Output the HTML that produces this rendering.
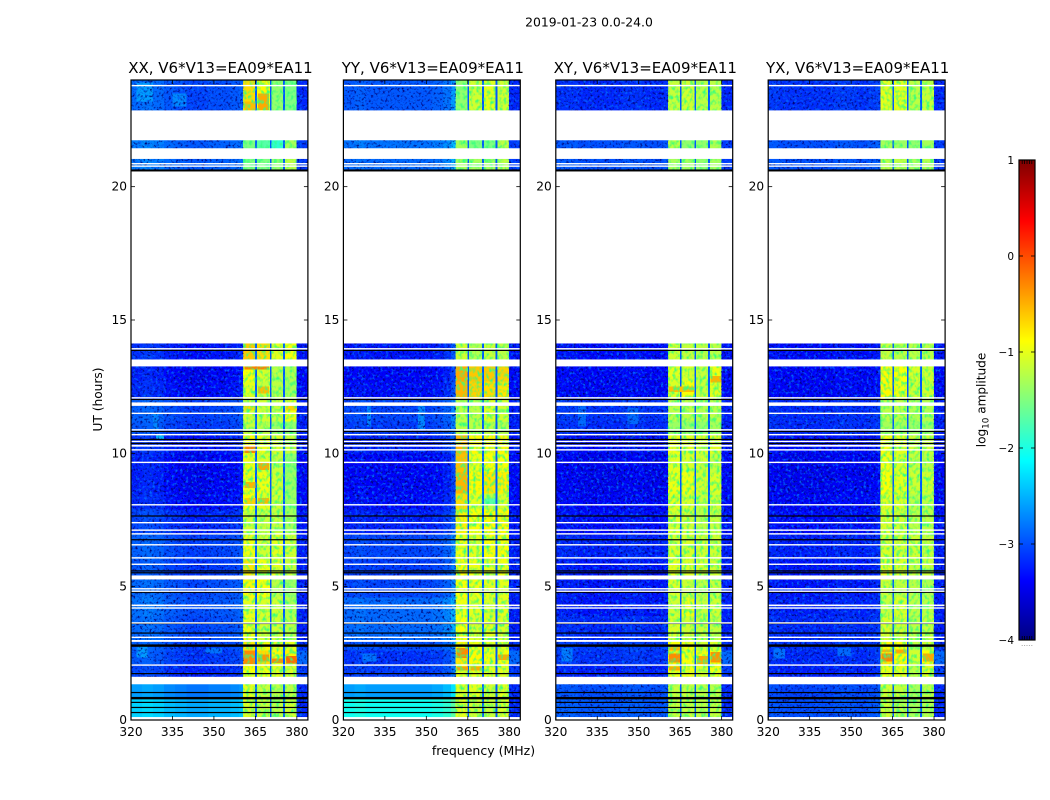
<!DOCTYPE html>
<html lang="en">
<head>
<meta charset="utf-8">
<title>2019-01-23 0.0-24.0</title>
<style>
html,body{margin:0;padding:0;background:#fff;}
svg{display:block;}
text{font-family:"DejaVu Sans","Liberation Sans",sans-serif;fill:#000;}
</style>
</head>
<body>
<svg id="chart" xmlns="http://www.w3.org/2000/svg" width="1050" height="800" viewBox="0 0 1050 800">
  <defs>
    <filter id="grain" x="0" y="0" width="100%" height="100%" color-interpolation-filters="sRGB">
      <feTurbulence type="fractalNoise" baseFrequency="0.42" numOctaves="2" seed="7"/>
      <feColorMatrix type="matrix" values="0 0 0 0 0  0 0 0 0 0  0 0 0 0 0.45  3.4 0 0 0 -1.75"/>
    </filter>
    <filter id="sparkle" x="0" y="0" width="100%" height="100%" color-interpolation-filters="sRGB">
      <feTurbulence type="fractalNoise" baseFrequency="0.36" numOctaves="2" seed="23"/>
      <feColorMatrix type="matrix" values="0 0 0 0 0  0 0 0 0 0.4  0 0 0 0 1  0 3.2 0 0 -1.65"/>
    </filter>
    <filter id="bandgrain" x="0" y="0" width="100%" height="100%" color-interpolation-filters="sRGB">
      <feTurbulence type="fractalNoise" baseFrequency="0.3 0.22" numOctaves="2" seed="11"/>
      <feColorMatrix type="matrix" values="0 0 0 0 0.2  0 0 0 0 1  0 0 0 0 0.5  2.6 0 0 0 -1.15"/>
    </filter>
  </defs>
  <text x="589" y="26.5" font-size="12.4" text-anchor="middle">2019-01-23 0.0-24.0</text>
  <text x="483.5" y="755" font-size="12.5" text-anchor="middle">frequency (MHz)</text>
  <text transform="translate(102,399.5) rotate(-90)" font-size="12.2" text-anchor="middle">UT (hours)</text>
  <text transform="translate(985.5,400) rotate(-90)" font-size="12.1" text-anchor="middle">log<tspan dy="3" font-size="8.8">10</tspan><tspan dy="-3"> amplitude</tspan></text>
  <g id="panels"></g>
  <g id="colorbar"></g>
</svg>
<script>
// Time rows (hours, top to bottom)
const rowEdges = [24, 22.8, 21.2, 20.5, 13.4, 12.7, 12.0, 11.2, 10.7, 10.0, 9.3, 8.5, 7.9, 7.0, 6.0, 5.3, 4.6, 3.9, 3.0, 2.6, 2.1, 1.5, 0.8, 0];

// Frequency layout (MHz)
const freqTicks = [320, 335, 350, 365, 380];
const hourTicks = [0, 5, 10, 15, 20];
const colorTicks = [1, 0, -1, -2, -3, -4];
const colorTickLabels = ['1', '0', '\u22121', '\u22122', '\u22123', '\u22124'];
const bgBlockEdges = [320, 324, 328, 332, 336, 340, 344, 348, 352, 356, 359, 360.6];
const bandEdges = [[360.6, 364.9], [365.5, 370.2], [370.8, 375], [375.7, 379.9]];
const gapEdges = [[364.9, 365.5], [370.2, 370.8], [375, 375.7]];
const rightBlock = [379.9, 384];

// Panel titles
const titleXX = 'XX, V6*V13=EA09*EA11';
const titleYY = 'YY, V6*V13=EA09*EA11';
const titleXY = 'XY, V6*V13=EA09*EA11';
const titleYX = 'YX, V6*V13=EA09*EA11';

// log10 amplitude by row: off-band background
const bgXX = [-3.0, -2.9, -2.9, -3.3, -3.4, -3.35, -3.05, -3.1, -3.3, -3.4, -3.4, -3.35, -3.2, -3.05, -3.1, -3.0, -2.95, -3.0, -3.05, -3.1, -3.2, -2.75, -2.5];
const bgYY = [-2.95, -2.8, -2.85, -3.3, -3.4, -3.35, -3.05, -3.1, -3.25, -3.4, -3.4, -3.35, -3.25, -3.05, -3.1, -3.05, -2.85, -2.85, -3.0, -3.15, -3.1, -2.6, -2.05];
const bgXY = [-3.2, -3.0, -3.0, -3.35, -3.4, -3.4, -3.15, -3.2, -3.35, -3.45, -3.45, -3.4, -3.35, -3.25, -3.3, -3.3, -3.3, -3.2, -3.1, -3.15, -3.25, -3.0, -2.95];
const bgYX = [-3.15, -3.0, -3.0, -3.35, -3.4, -3.4, -3.2, -3.2, -3.35, -3.45, -3.45, -3.4, -3.35, -3.25, -3.3, -3.3, -3.25, -3.2, -3.15, -3.2, -3.25, -3.05, -3.0];

// Background offset by 4 MHz block
const tiltXX = [0.15, 0.2, 0.15, 0.05, 0, -0.05, -0.05, 0, 0, 0.05, 0.1];
const tiltYY = [0, 0.05, 0, 0, 0, 0, 0, 0, 0.05, 0.15, 0.35];
const tiltXY = [0.05, 0.05, 0, 0, 0, 0, 0.05, 0.05, 0, 0, 0.05];
const tiltYX = [0.05, 0, 0, 0, 0, 0, 0.05, 0.05, 0, 0.05, 0.1];

// Four bright bands by row
const xxBand1 = [-0.7, -1.5, -1.5, -0.6, -0.9, -1.0, -1.1, -1.15, -0.85, -0.95, -0.95, -0.9, -1.1, -0.95, -0.75, -0.85, -1.0, -0.95, -0.75, -0.3, -0.9, -1.0, -1.05];
const xxBand2 = [-0.85, -1.7, -1.5, -0.7, -1.05, -1.15, -1.1, -1.2, -0.95, -1.05, -0.95, -1.0, -1.15, -1.1, -0.95, -0.9, -1.05, -1.1, -0.85, -0.7, -0.95, -1.15, -1.15];
const xxBand3 = [-1.4, -1.9, -1.4, -1.0, -1.2, -1.2, -1.15, -1.35, -1.05, -1.15, -1.1, -1.1, -1.15, -1.0, -1.0, -1.2, -1.1, -1.1, -1.0, -0.85, -1.0, -1.2, -1.2];
const xxBand4 = [-1.5, -1.3, -1.2, -0.9, -1.25, -1.3, -0.95, -1.4, -1.15, -1.4, -1.35, -1.35, -1.3, -1.1, -1.15, -1.35, -1.25, -1.2, -1.0, -0.8, -1.05, -1.2, -1.1];

const yyBand1 = [-1.4, -1.3, -1.3, -1.1, -0.45, -0.5, -1.2, -1.2, -0.5, -0.55, -0.5, -0.7, -0.8, -0.95, -0.85, -0.9, -0.95, -0.9, -0.8, -0.75, -0.95, -1.0, -1.0];
const yyBand2 = [-1.1, -1.5, -1.3, -1.25, -0.6, -0.65, -1.2, -1.2, -0.85, -0.95, -0.85, -1.0, -0.9, -1.0, -0.95, -0.95, -1.0, -1.05, -0.95, -0.85, -1.0, -1.0, -1.1];
const yyBand3 = [-1.0, -1.5, -1.3, -1.15, -0.6, -0.7, -1.05, -1.2, -0.85, -0.9, -0.75, -1.2, -0.85, -0.9, -1.0, -1.0, -1.05, -1.0, -1.0, -0.95, -1.0, -1.1, -1.15];
const yyBand4 = [-1.1, -1.2, -1.2, -1.2, -0.65, -0.75, -1.1, -1.25, -0.85, -0.9, -0.8, -1.05, -0.85, -0.9, -0.95, -1.0, -1.0, -1.05, -1.0, -0.9, -1.0, -1.0, -1.05];

const xyBand1 = [-1.15, -1.2, -1.3, -1.1, -1.0, -1.05, -1.2, -1.35, -0.95, -1.0, -0.95, -1.0, -1.05, -1.05, -1.0, -1.05, -1.1, -1.05, -0.9, -0.8, -0.95, -1.15, -1.15];
const xyBand2 = [-1.1, -1.4, -1.3, -1.15, -1.05, -0.9, -1.2, -1.35, -1.0, -1.05, -0.95, -1.05, -1.1, -1.05, -1.05, -1.1, -0.95, -1.1, -0.95, -0.9, -0.95, -1.15, -1.15];
const xyBand3 = [-1.2, -1.4, -1.4, -1.2, -1.15, -1.15, -1.25, -1.4, -1.05, -1.1, -1.1, -1.15, -1.2, -1.1, -1.1, -1.2, -1.15, -1.15, -1.1, -0.95, -1.05, -1.2, -1.2];
const xyBand4 = [-1.2, -1.25, -1.3, -1.2, -0.95, -1.0, -1.2, -1.3, -1.0, -1.15, -1.05, -1.1, -1.15, -1.1, -1.1, -1.15, -1.1, -1.15, -1.05, -0.9, -0.95, -1.2, -1.15];

const yxBand1 = [-1.0, -1.3, -1.2, -1.15, -0.85, -0.85, -1.2, -1.3, -0.9, -0.95, -0.9, -1.0, -1.05, -1.05, -1.0, -1.1, -1.15, -1.05, -0.85, -0.75, -0.95, -1.1, -1.1];
const yxBand2 = [-1.0, -1.35, -1.2, -1.2, -0.9, -0.95, -1.2, -1.3, -1.0, -1.05, -1.0, -1.05, -1.1, -1.1, -1.05, -1.15, -1.05, -1.1, -0.9, -0.85, -1.0, -1.15, -1.2];
const yxBand3 = [-1.2, -1.4, -1.3, -1.2, -1.05, -1.1, -1.25, -1.35, -1.1, -1.15, -1.1, -1.2, -1.2, -1.1, -1.15, -1.2, -1.2, -1.2, -1.2, -1.1, -1.2, -1.3, -1.3];
const yxBand4 = [-1.15, -1.3, -1.25, -1.2, -1.1, -1.1, -1.25, -1.35, -1.1, -1.2, -1.1, -1.2, -1.2, -1.15, -1.15, -1.25, -1.2, -1.15, -1.1, -0.9, -1.0, -1.2, -1.25];

// Localised features: [startMHz, endMHz, upperHour, lowerHour, log10 amplitude]
const featuresXX = [
  [366, 370, 23.5, 22.87, -0.45], [361, 365, 23.2, 22.87, -0.55], [361, 370, 13.26, 13.15, -0.25],
  [366, 370, 12.5, 12.25, -0.55], [376, 380, 11.78, 11.6, -0.65], [361, 365, 11.78, 11.6, -0.7],
  [361, 365, 10.25, 10.02, -0.25], [366, 370, 9.65, 9.38, -0.45], [361, 365, 8.92, 8.7, -0.5],
  [366, 370, 8.32, 8.12, -0.5], [361, 365, 8.32, 8.1, -0.65], [366, 370, 2.45, 2.2, -0.35],
  [371, 375, 2.3, 2.14, -0.3], [376, 380, 2.4, 2.12, -0.15], [322, 326, 2.75, 2.35, -2.6],
  [347, 353, 2.7, 2.5, -2.8], [322, 328, 23.9, 23.2, -2.6], [335, 340, 23.5, 23.0, -2.7],
  [328, 330, 11.5, 10.9, -2.7], [329, 332, 10.68, 10.52, -2.5]
];
const featuresYY = [
  [371, 375, 8.3, 8.1, -1.7], [361, 365, 2.7, 2.33, -0.3], [376, 380, 2.45, 2.25, -0.45],
  [361, 365, 2.0, 1.85, -0.4], [366, 370, 2.0, 1.85, -0.45], [328.5, 330, 11.8, 11.0, -2.7],
  [347, 349.5, 11.8, 10.9, -2.7], [327, 332, 2.5, 2.2, -2.8]
];
const featuresXY = [
  [361, 365, 2.75, 2.6, -0.5], [361, 365, 2.5, 2.15, -0.3], [371, 375, 2.4, 2.1, -0.45],
  [376, 380, 2.55, 2.15, -0.35], [361, 365, 2.0, 1.85, -0.45], [361, 370, 12.5, 12.3, -0.55],
  [376, 380, 12.9, 12.65, -0.5], [322, 326, 2.7, 2.2, -2.75], [328, 331, 11.8, 11.0, -2.85],
  [346, 350, 11.7, 11.1, -2.85]
];
const featuresYX = [
  [361, 365, 2.65, 2.55, -0.5], [361, 365, 2.5, 2.2, -0.25], [366, 370, 2.65, 2.5, -0.45],
  [376, 380, 2.5, 2.2, -0.45], [322, 326, 2.7, 2.3, -2.8], [345, 350, 2.7, 2.4, -2.85]
];

// Levels shared by all panels
const gapLevel = -2.95;
const rightLevel = [-3.2, -3.1, -3.1, -3.3, -3.35, -3.35, -3.25, -3.25, -3.3, -3.35, -3.35, -3.35, -3.3, -3.25, -3.25, -3.25, -3.25, -3.25, -3.15, -2.85, -3.1, -3.2, -3.2];

// Flagged time ranges (hours) and thin flag lines
const whiteGaps = [[22.86, 21.74], [21.44, 21.04], [20.57, 14.12], [13.52, 13.26], [11.91, 11.78], [10.47, 10.42], [10.32, 10.25], [5.42, 5.27], [4.33, 4.27], [3.0, 2.93], [1.62, 1.34], [0.11, 0]];
const whiteLines = [23.79, 20.86, 20.77, 13.92, 12.08, 11.5, 10.88, 10.7, 10.13, 9.66, 8.07, 7.4, 7.12, 6.98, 6.57, 6.08, 5.84, 4.92, 4.83, 4.2, 3.64, 3.1, 2.06];
const blackLines = [13.86, 12.02, 10.82, 10.52, 10.37, 7.65, 6.76, 5.59, 5.52, 4.79, 3.62, 3.26, 1.74, 1.03, 0.66, 0.47, 0.28];
const thickBlackLines = [20.6, 2.79, 0.82];

const SVG_NS = 'http://www.w3.org/2000/svg';
const panelLeft = [131, 343.4, 555.8, 768.2];
const panelWidth = 176.9;
const plotTop = 80;
const plotBottom = 720;
const freqMin = 320;
const freqMax = 384;
const hourMax = 24;

function clamp01(v) { return Math.max(0, Math.min(1, v)); }
function jet(v) {
  const t = clamp01((v + 4) / 5);
  const r = clamp01(1.5 - Math.abs(4 * t - 3));
  const g = clamp01(1.5 - Math.abs(4 * t - 2));
  const b = clamp01(1.5 - Math.abs(4 * t - 1));
  return 'rgb(' + Math.round(r * 255) + ',' + Math.round(g * 255) + ',' + Math.round(b * 255) + ')';
}
function yScale(h) { return plotBottom - (h / hourMax) * (plotBottom - plotTop); }
function xScaleFor(left) {
  return function (f) { return left + ((f - freqMin) / (freqMax - freqMin)) * panelWidth; };
}
function make(tag, attrs, parent) {
  const el = document.createElementNS(SVG_NS, tag);
  for (const k in attrs) el.setAttribute(k, attrs[k]);
  parent.appendChild(el);
  return el;
}

const panelsRoot = document.getElementById('panels');
const panelDefs = [
  { key: 'xx', title: titleXX, bg: bgXX, tilt: tiltXX, bands: [xxBand1, xxBand2, xxBand3, xxBand4], features: featuresXX, smoothBelow: 1.5 },
  { key: 'yy', title: titleYY, bg: bgYY, tilt: tiltYY, bands: [yyBand1, yyBand2, yyBand3, yyBand4], features: featuresYY, smoothBelow: 1.5 },
  { key: 'xy', title: titleXY, bg: bgXY, tilt: tiltXY, bands: [xyBand1, xyBand2, xyBand3, xyBand4], features: featuresXY, smoothBelow: 0 },
  { key: 'yx', title: titleYX, bg: bgYX, tilt: tiltYX, bands: [yxBand1, yxBand2, yxBand3, yxBand4], features: featuresYX, smoothBelow: 0 }
];

panelDefs.forEach(function (def, pi) {
  const left = panelLeft[pi];
  const x = xScaleFor(left);
  const g = make('g', {}, panelsRoot);
  
  

  const title = make('text', { x: left + panelWidth / 2 + 1, y: 73, 'font-size': 15, 'text-anchor': 'middle' }, g);
  title.textContent = def.title;
  
  

  const cells = make('g', { 'shape-rendering': 'crispEdges' }, g);
  
  

  function cell(f0, f1, h0, h1, value) {
    const r = make('rect', {
      x: x(f0), y: yScale(h0),
      width: x(f1) - x(f0), height: yScale(h1) - yScale(h0),
      fill: jet(value)
    }, cells);
    
    
  }

  for (let r = 0; r < rowEdges.length - 1; r++) {
    const h0 = rowEdges[r];
    const h1 = rowEdges[r + 1];
    for (let b = 0; b < bgBlockEdges.length - 1; b++) {
      cell(bgBlockEdges[b], bgBlockEdges[b + 1], h0, h1, def.bg[r] + def.tilt[b]);
    }
    bandEdges.forEach(function (edge, b) {
      cell(edge[0], edge[1], h0, h1, def.bands[b][r]);
    });
    gapEdges.forEach(function (edge) {
      cell(edge[0], edge[1], h0, h1, gapLevel);
    });
    cell(rightBlock[0], rightBlock[1], h0, h1, rightLevel[r]);
  }
  def.features.forEach(function (p) {
    cell(p[0], p[1], p[2], p[3], p[4]);
  });

  // speckle texture over the off-band background
  const grainSpans = [[freqMin, bandEdges[0][0], def.smoothBelow], [rightBlock[0], rightBlock[1], 0]];
  grainSpans.forEach(function (span) {
    const attrs = { x: x(span[0]), y: plotTop, width: x(span[1]) - x(span[0]), height: yScale(span[2]) - plotTop };
    const dark = make('rect', attrs, g);
    dark.setAttribute('filter', 'url(#grain)');
    
    
    const light = make('rect', attrs, g);
    light.setAttribute('filter', 'url(#sparkle)');
    
    
  });
  bandEdges.forEach(function (edge) {
    const bandTex = make('rect', { x: x(edge[0]), y: plotTop, width: x(edge[1]) - x(edge[0]), height: plotBottom - plotTop }, g);
    bandTex.setAttribute('filter', 'url(#bandgrain)');
    
    
  });

  const flags = make('g', {}, g);
  
  

  thickBlackLines.forEach(function (h) {
    const l = make('rect', { x: left, y: yScale(h) - 1.2, width: panelWidth, height: 2.4, fill: '#000' }, flags);
    
    
  });
  blackLines.forEach(function (h) {
    const l = make('rect', { x: left, y: yScale(h) - 0.6, width: panelWidth, height: 1.2, fill: '#000' }, flags);
    
    
  });
  whiteLines.forEach(function (h) {
    const l = make('rect', { x: left, y: yScale(h) - 0.7, width: panelWidth, height: 1.4, fill: '#fff' }, flags);
    
    
  });
  whiteGaps.forEach(function (gap) {
    const l = make('rect', { x: left, y: yScale(gap[0]), width: panelWidth, height: yScale(gap[1]) - yScale(gap[0]), fill: '#fff' }, flags);
    
    
  });

  const frame = make('rect', { x: left, y: plotTop, width: panelWidth, height: plotBottom - plotTop, fill: 'none', stroke: '#000', 'stroke-width': 1.2 }, g);
  
  

  freqTicks.forEach(function (f) {
    const px = x(f);
    const t1 = make('line', { x1: px, x2: px, y1: plotBottom, y2: plotBottom - 4, stroke: '#000', 'stroke-width': 0.8 }, g);
    
    
    const t2 = make('line', { x1: px, x2: px, y1: plotTop, y2: plotTop + 4, stroke: '#000', 'stroke-width': 0.8 }, g);
    
    
    const lab = make('text', { x: px, y: plotBottom + 16, 'font-size': 12.2, 'text-anchor': 'middle' }, g);
    lab.textContent = String(f);
    
    
  });
  hourTicks.forEach(function (h) {
    const py = yScale(h);
    const t1 = make('line', { x1: left, x2: left + 4, y1: py, y2: py, stroke: '#000', 'stroke-width': 0.8 }, g);
    
    
    const t2 = make('line', { x1: left + panelWidth, x2: left + panelWidth - 4, y1: py, y2: py, stroke: '#000', 'stroke-width': 0.8 }, g);
    
    
    const lab = make('text', { x: left - 4, y: py + 4, 'font-size': 12.2, 'text-anchor': 'end' }, g);
    lab.textContent = String(h);
    
    
  });
});

// Colorbar
const cbRoot = document.getElementById('colorbar');
const cbLeft = 1019;
const cbRight = 1035;
const cbTop = 160;
const cbBottom = 640;
const cbMin = -4;
const cbMax = 1;
function cbY(v) { return cbBottom - ((v - cbMin) / (cbMax - cbMin)) * (cbBottom - cbTop); }

const cbFill = make('g', { 'shape-rendering': 'crispEdges' }, cbRoot);


for (let i = 0; i < 240; i++) {
  const v0 = cbMin + (i / 240) * (cbMax - cbMin);
  const v1 = cbMin + ((i + 1) / 240) * (cbMax - cbMin);
  const s = make('rect', { x: cbLeft, y: cbY(v1), width: cbRight - cbLeft, height: cbY(v0) - cbY(v1) + 0.5, fill: jet((v0 + v1) / 2) }, cbFill);
  
  
}
const cbFrame = make('rect', { x: cbLeft, y: cbTop, width: cbRight - cbLeft, height: cbBottom - cbTop, fill: 'none', stroke: '#000', 'stroke-width': 1.2 }, cbRoot);



colorTicks.forEach(function (v, i) {
  const py = cbY(v);
  const t1 = make('line', { x1: cbLeft, x2: cbLeft + 4, y1: py, y2: py, stroke: '#000', 'stroke-width': 0.8 }, cbRoot);
  
  
  const t2 = make('line', { x1: cbRight, x2: cbRight - 4, y1: py, y2: py, stroke: '#000', 'stroke-width': 0.8 }, cbRoot);
  
  
  const lab = make('text', { x: cbLeft - 5, y: py + 4, 'font-size': 10.5, 'text-anchor': 'end' }, cbRoot);
  lab.textContent = colorTickLabels[i];
  
  
});

// Small end ticks on colorbar and the faint dotted row beneath it
const cbEndTicks = [0.2, 0.35, 0.5, 0.65, 0.8];
cbEndTicks.forEach(function (frac) {
  const px = cbLeft + frac * (cbRight - cbLeft);
  const top = make('line', { x1: px, x2: px, y1: cbTop, y2: cbTop + 4, stroke: '#000', 'stroke-width': 0.8 }, cbRoot);
  
  
  const bottom = make('line', { x1: px, x2: px, y1: cbBottom, y2: cbBottom - 4, stroke: '#000', 'stroke-width': 0.8 }, cbRoot);
  
  
  const dot = make('rect', { x: px - 0.5, y: cbBottom + 5, width: 1, height: 1, fill: '#aaa' }, cbRoot);
  
  
});
</script>
</body>
</html>
